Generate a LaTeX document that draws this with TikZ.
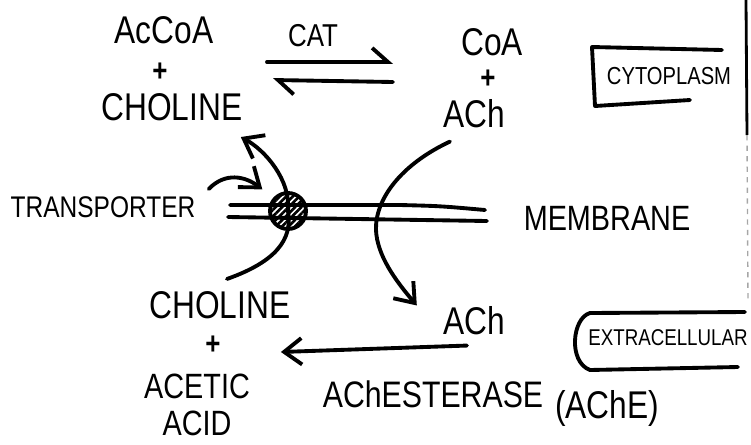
\documentclass[tikz,border=0pt]{standalone}
\usepackage{fontspec}
\newfontfamily\handfont{Liberation Sans}[FakeStretch=0.82]
\usetikzlibrary{arrows.meta,patterns.meta}

\tikzset{
  pen/.style={line width=2.2pt, line cap=round, line join=round},
  txt/.style={font={\handfont\fontsize{#1}{#1}\selectfont}, inner sep=0pt, align=center},
  txt/.default=22,
  sumsign/.style={font={\handfont\bfseries\fontsize{18}{18}\selectfont}, inner sep=0pt},
  barb/.style={-{Straight Barb[length=10pt,width=15pt]}},
  hbarb/.style={-{Straight Barb[harpoon,length=9pt,width=16pt]}},
}

\begin{document}
\begin{tikzpicture}[x=0.02cm, y=-0.02cm]
\clip (0,0) rectangle (751,444);

% Lado citoplasma
\node[txt] (accoa) at (164,30) {AcCoA};
\node[sumsign] (mas1) at (160,72) {+};
\node[txt] (colina1) at (172,107) {CHOLINE};
\node[txt=18] (cat) at (313,36) {CAT};
\node[txt] (coa) at (492,42) {CoA};
\node[sumsign] (mas2) at (488,79) {+};
\node[txt] (ach1) at (474,114) {ACh};

% Equilibrio de la CAT
\coordinate (ida1) at (267,62);
\coordinate (ida2) at (393,62);
\coordinate (vuelta1) at (393,82);
\coordinate (vuelta2) at (273,80);
\draw[pen,hbarb] (ida1) -- (ida2);
\draw[pen,hbarb] (vuelta1) -- (vuelta2);

% Caja del citoplasma
\node[txt=14] (cito) at (669,76) {CYTOPLASM};
\draw[pen] (722,50) -- (592,47) -- (595,106) -- (690,100);

% Membrana
\draw[pen] (230,205) -- (400,205) .. controls (440,206) .. (485,210);
\draw[pen] (228,217) -- (487,221);
\node[txt=20] (memb) at (607,218) {MEMBRANE};

% Transportador
\node[txt=17] (transp) at (103,207) {TRANSPORTER};
\node[pen, draw, circle, minimum size=0.72cm, inner sep=0pt,
      pattern={Lines[angle=45,distance=2.6pt,line width=1.5pt]}] (poro) at (288,211) {};
\draw[pen,barb] ([shift={(13,-7)}]transp.north east)
  .. controls (225,172) and (245,176) .. ([shift={(-12,-8)}]poro.north west);

% Lado extracelular
\node[txt] (colina2) at (220,305) {CHOLINE};
\node[sumsign] (mas3) at (213,345) {+};
\node[txt, font={\handfont\fontsize{20}{21}\selectfont}] (acetico) at (197,405) {ACETIC\\ACID};
\node[txt] (ach2) at (474,321) {ACh};
\node[txt=21] (ache) at (433,394) {AChESTERASE};
\node[txt] (siglas) at (607,408) {(AChE)};
\node[txt=13, anchor=west] (extra) at (588,338) {EXTRACELLULAR};
\draw[pen] (745,312) -- (590,313) .. controls (572,318) and (568,362) .. (590,370) -- (738,367);

% Recaptacion de colina
\draw[pen,barb] ([shift={(7,-12)}]colina2.north)
  .. controls (275,262) and (293,240) .. (poro.center)
  .. controls (291,180) and (265,150) .. ([shift={(-2,16)}]colina1.south east);

% Liberacion de ACh
\draw[pen,barb] ([shift={(-24,13)}]ach1.south)
  .. controls (400,165) and (375,200) .. (376,230)
  .. controls (377,255) and (395,280) .. ([shift={(-26,-1)}]ach2.north west);

% Hidrolisis
\draw[pen,barb] ([shift={(-7,10)}]ach2.south) -- ([shift={(60,7)}]mas3.east);

% Borde de la hoja
\draw[line width=1.6pt] (746,0) -- (747,135);
\draw[line width=0.8pt, black!35, dashed] (747,135) -- (748,300);
\end{tikzpicture}
\end{document}
